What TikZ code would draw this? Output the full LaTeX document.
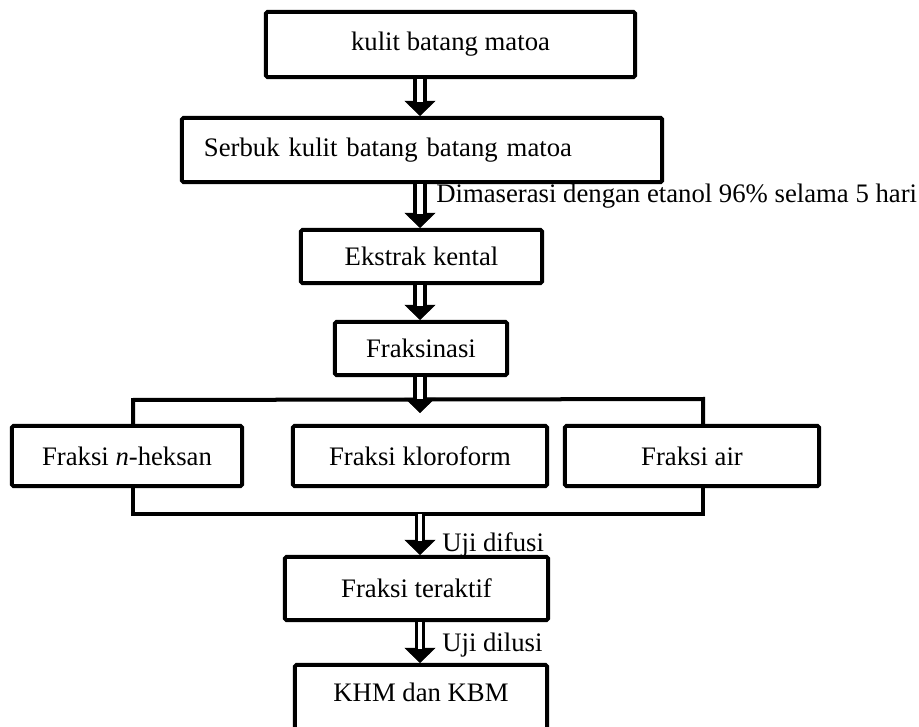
\documentclass[tikz,border=0pt]{standalone}
\usepackage{fontspec}
\setmainfont{Liberation Serif}
\usetikzlibrary{arrows.meta,calc}

\begin{document}
\begin{tikzpicture}[x=0.025cm,y=-0.025cm,
  box/.style={draw, line width=0.1cm, rounded corners=1pt, inner sep=2pt,
              font=\fontsize{19}{22}\selectfont},
  lbl/.style={anchor=west, inner sep=0pt, font=\fontsize{19}{22}\selectfont},
  brk/.style={line width=0.1cm},
  head/.style={line width=0.4pt, -{Triangle[length=0.38cm,width=0.78cm]}},
  shaft/.style={line width=0.085cm, double=white, double distance=0.16cm,
                shorten >=0.34cm},
  thin shaft/.style={shaft, double distance=0.08cm}
]
  \useasboundingbox (0,0) rectangle (919,727);

  %% main chain
  \node[box, minimum width=9.225cm, minimum height=1.625cm] (k) at (450.5,44.5)
    {kulit batang matoa};
  \node[box, minimum height=1.6cm, text width=10.9cm, inner xsep=0.55cm,
        align=left] (s) at (422,150) {Serbuk kulit batang batang matoa};
  \node[box, minimum width=6.025cm, minimum height=1.325cm] (e) at (421.5,256.5)
    {Ekstrak kental};
  \node[box, minimum width=4.3cm, minimum height=1.325cm] (f) at (421,348.5)
    {Fraksinasi};

  %% fractions
  \node[box, minimum width=5.75cm, minimum height=1.5cm] (nh) at (127,456)
    {Fraksi \textit{n}-heksan};
  \node[box, minimum width=6.35cm, minimum height=1.5cm] (kl) at (420,456)
    {Fraksi kloroform};
  \node[box, minimum width=6.35cm, minimum height=1.5cm] (air) at (692,456)
    {Fraksi air};

  %% tests
  \node[box, minimum width=6.575cm, minimum height=1.575cm] (ft) at (416.5,588.5)
    {Fraksi teraktif};
  \node[box, minimum width=6.3cm, minimum height=1.875cm, text depth=0.5cm]
    (khm) at (421,702.5) {KHM dan KBM};

  %% brackets round the fractions
  \coordinate (ax) at (420,0);
  \coordinate (bl) at (133,400);
  \coordinate (br) at (703,399);
  \coordinate (cl) at (133,514);
  \coordinate (cr) at (703,514);
  \coordinate (fr) at (420,413);
  \draw[brk] (bl |- nh.north) -- (bl) -- (br) -- (br |- air.north);
  \draw[brk] (cl |- nh.south) -- (cl) -- (cr) -- (cr |- air.south);

  %% arrows
  \foreach \a/\b in {k/s, s/e, e/f} {
    \draw[head]  (\a.south -| ax) -- (\b.north -| ax);
    \draw[shaft] (\a.south -| ax) -- (\b.north -| ax);
  }
  \draw[head]  (f.south -| ax) -- (fr);
  \draw[shaft] (f.south -| ax) -- (fr);
  \draw[head]  (cl -| ax) -- (ft.north -| ax);
  \draw[thin shaft] (cl -| ax) -- (ft.north -| ax);
  \draw[head]  (ft.south -| ax) -- (khm.north -| ax);
  \draw[thin shaft] (ft.south -| ax) -- (khm.north -| ax);

  %% labels
  \node[lbl] (dm) at (436,196) {Dimaserasi dengan etanol 96\% selama 5 hari};
  \node[lbl] (ud) at (442,545) {Uji difusi};
  \node[lbl] (ul) at (442,645) {Uji dilusi};
\end{tikzpicture}
\end{document}
